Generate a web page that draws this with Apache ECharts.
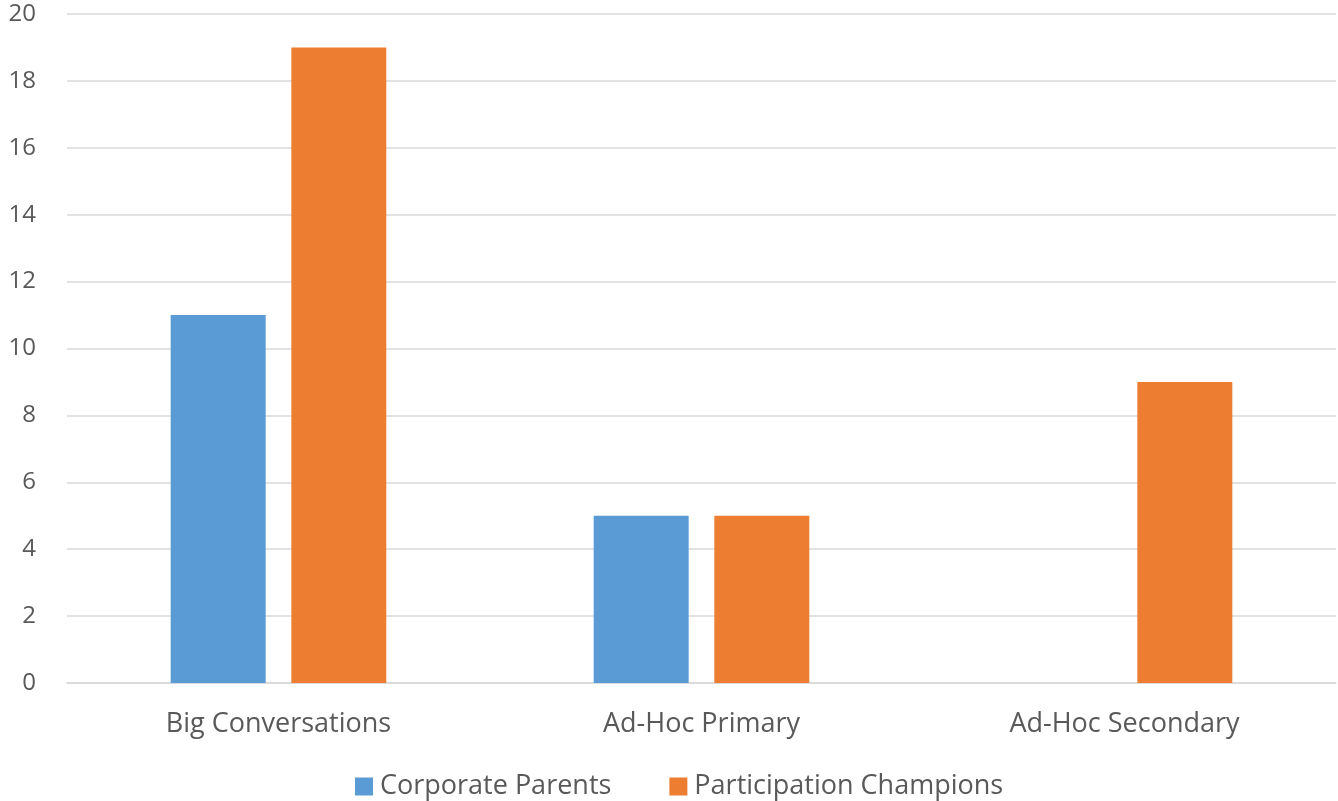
<!DOCTYPE html>
<html><head><meta charset="utf-8">
<script src="https://cdn.jsdelivr.net/npm/echarts@6/dist/echarts.min.js"></script>
<style>html,body{margin:0;padding:0;background:#fff}#c{width:1338px;height:801px}</style>
</head><body><div id="c"></div>
<script>
const categories = ['Big Conversations', 'Ad-Hoc Primary', 'Ad-Hoc Secondary'];
const corporateParents = [11, 5, 0];
const participationChampions = [19, 5, 9];
const yTicks = { min: 0, max: 20, interval: 2 };

const font = 'Open Sans';
const chart = echarts.init(document.getElementById('c'));
chart.setOption({
  animation: false,
  textStyle: { fontFamily: font, color: '#595959' },
  grid: { left: 67, right: 2, top: 14, bottom: 118, containLabel: false },
  legend: {
    top: 773, left: 355, itemWidth: 18, itemHeight: 18, itemGap: 58,
    icon: 'rect', padding: 0,
    textStyle: { fontFamily: font, fontSize: 27, color: '#595959', padding: [0, 0, 0, 2] },
    data: ['Corporate Parents', 'Participation Champions']
  },
  xAxis: {
    type: 'category', data: categories,
    axisLine: { lineStyle: { color: '#D9D9D9', width: 1.5 } },
    axisTick: { show: false },
    axisLabel: { fontFamily: font, fontSize: 27, color: '#595959', margin: 28 }
  },
  yAxis: {
    type: 'value', min: yTicks.min, max: yTicks.max, interval: yTicks.interval,
    axisLine: { show: false }, axisTick: { show: false },
    splitLine: { lineStyle: { color: '#D9D9D9', width: 1.5 } },
    axisLabel: { fontFamily: font, fontSize: 24, color: '#595959', margin: 31 }
  },
  series: [
    { name: 'Corporate Parents', type: 'bar', data: corporateParents, barWidth: 95, barGap: '27%',
      itemStyle: { color: '#5B9BD5' } },
    { name: 'Participation Champions', type: 'bar', data: participationChampions, barWidth: 95,
      itemStyle: { color: '#ED7D31' } }
  ]
});
</script></body></html>
